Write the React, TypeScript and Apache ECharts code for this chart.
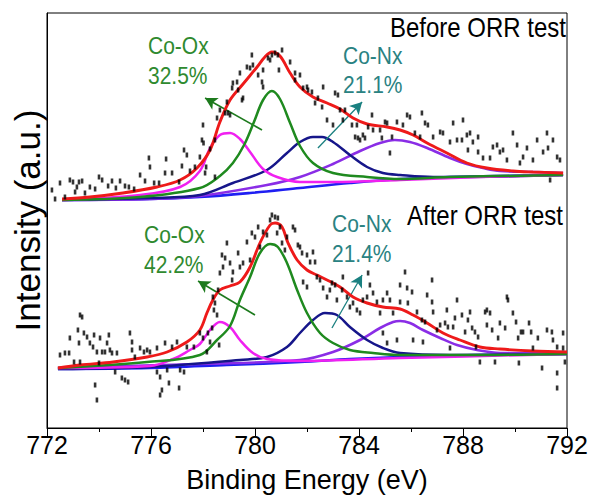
import React, { useEffect, useRef } from "react";
import * as echarts from "echarts";

// ---------- axis ----------
const xTicks = [772, 776, 780, 784, 788, 792];
const xRange = [772, 792];
const yRange = [0, 415];

// ---------- Before ORR test (upper spectrum) ----------
const beforeBaseline = [
  [772.58, 228], [775.96, 229], [777.88, 231], [779.81, 235], [781.73, 240],
  [783.65, 245], [785.58, 249], [787.5, 251], [791.85, 253],
];
const beforePeak779 = [
  [772.58, 228], [775.58, 233], [777.12, 241], [777.88, 257], [778.27, 280],
  [778.65, 293], [779.04, 295], [779.42, 289], [779.81, 276], [780.31, 259],
  [780.85, 251], [781.73, 246], [783.0, 246], [785.58, 248], [788.65, 251], [791.85, 253],
];
const beforeCoOx = [
  [772.58, 228], [775.58, 231], [777.88, 240], [778.65, 252], [779.15, 265],
  [779.58, 283], [779.96, 306], [780.31, 328], [780.65, 337], [780.96, 329],
  [781.35, 305], [781.73, 282], [782.23, 265], [783.0, 255], [784.31, 251],
  [785.58, 249], [787.5, 251], [791.85, 253],
];
const beforeCoNx = [
  [772.58, 228], [775.96, 230], [777.88, 233], [779.15, 245], [780.46, 258],
  [781.23, 275], [781.73, 286], [782.23, 291], [782.58, 291], [783.0, 286],
  [783.65, 273], [784.31, 261], [784.92, 255], [785.58, 253], [786.85, 251], [791.85, 253],
];
const beforeSatellite = [
  [772.58, 228], [775.96, 229], [777.88, 232], [780.46, 243], [781.73, 251],
  [783.0, 264], [784.04, 277], [784.81, 285], [785.38, 288], [785.96, 286],
  [786.62, 280], [787.5, 270], [788.15, 264], [788.77, 260], [789.42, 257],
  [790.69, 256], [791.85, 255],
];
const beforeEnvelope = [
  [772.58, 229], [773.65, 231], [774.92, 235], [776.23, 241], [777.12, 248],
  [777.77, 260], [778.27, 278], [778.65, 306], [779.04, 328], [779.54, 344],
  [780.08, 361], [780.38, 371], [780.65, 376], [780.96, 372], [781.35, 355],
  [781.73, 341], [782.23, 331], [782.77, 325], [783.27, 319], [783.77, 310],
  [784.31, 304], [785.08, 301], [785.58, 298], [786.08, 293], [786.62, 285],
  [787.38, 275], [788.15, 265], [788.92, 260], [789.92, 257], [790.69, 256], [791.85, 255],
];
const beforePoints = [
  [772.19, 238], [772.31, 229], [772.5, 245], [772.69, 231], [772.88, 248], [773.0, 246],
  [773.08, 236], [773.15, 241], [773.23, 246], [773.35, 247], [773.46, 235], [773.65, 241],
  [773.85, 239], [774.0, 251], [774.12, 248], [774.35, 242], [774.5, 247], [774.65, 240],
  [774.81, 247], [775.0, 242], [775.15, 241], [775.35, 239], [775.58, 253], [775.77, 247],
  [775.92, 270], [775.96, 261], [776.12, 245], [776.31, 245], [776.54, 255], [776.58, 269],
  [776.81, 255], [777.08, 246], [777.19, 262], [777.27, 278], [777.38, 273], [777.5, 257],
  [777.69, 261], [777.88, 271], [777.96, 288], [778.0, 303], [778.02, 285], [778.08, 255],
  [778.12, 261], [778.27, 279], [778.46, 288], [778.46, 251], [778.54, 310], [778.65, 318],
  [778.85, 315], [778.92, 326], [778.96, 315], [779.04, 313], [779.12, 340], [779.15, 345],
  [779.31, 346], [779.35, 338], [779.42, 355], [779.5, 328], [779.54, 330], [779.69, 361],
  [779.81, 360], [779.88, 373], [779.92, 363], [780.12, 353], [780.27, 346], [780.31, 358],
  [780.31, 341], [780.5, 370], [780.58, 368], [780.65, 373], [780.77, 375], [780.88, 373],
  [780.92, 358], [781.04, 378], [781.35, 366], [781.54, 355], [781.54, 348], [781.73, 353],
  [781.85, 340], [782.0, 341], [782.04, 338], [782.19, 336], [782.31, 325], [782.42, 330],
  [782.58, 321], [782.62, 341], [782.77, 308], [783.0, 303], [783.08, 335], [783.19, 333],
  [783.27, 318], [783.38, 308], [783.46, 318], [783.73, 303], [783.85, 291], [783.92, 303],
  [783.96, 290], [784.04, 288], [784.15, 293], [784.23, 290], [784.35, 301], [784.5, 313],
  [784.54, 298], [784.81, 298], [784.88, 290], [785.0, 306], [785.08, 305], [785.19, 275],
  [785.27, 291], [785.46, 306], [785.69, 303], [785.85, 313], [785.96, 311], [786.15, 295],
  [786.35, 291], [786.42, 315], [786.54, 305], [786.65, 303], [786.85, 291], [787.12, 296],
  [787.23, 295], [787.5, 286], [787.62, 305], [787.77, 288], [787.96, 288], [788.0, 308],
  [788.15, 293], [788.19, 278], [788.27, 295], [788.38, 286], [788.58, 291], [788.58, 276],
  [788.77, 270], [789.04, 270], [789.15, 281], [789.31, 283], [789.42, 276], [789.54, 278],
  [789.69, 268], [789.92, 295], [790.08, 283], [790.19, 265], [790.31, 271], [790.46, 280],
  [790.69, 268], [790.85, 288], [791.08, 276], [791.23, 295], [791.27, 280], [791.35, 248],
  [791.46, 288], [791.62, 271], [791.73, 268],
];

// ---------- After ORR test (lower spectrum) ----------
const afterBaseline = [
  [772.42, 59], [775.96, 60], [778.92, 63], [781.73, 66], [783.65, 69],
  [785.58, 71], [788.65, 73], [792.0, 74],
];
const afterPeak779 = [
  [772.42, 60], [775.96, 62], [776.85, 69], [777.5, 78], [777.88, 84], [778.27, 98],
  [778.65, 106], [779.04, 101], [779.42, 88], [779.92, 75], [780.46, 69], [781.73, 67],
  [785.58, 70], [792.0, 74],
];
const afterCoOx = [
  [772.42, 60], [775.85, 66], [777.88, 73], [778.54, 88], [779.04, 102], [779.42, 128],
  [779.81, 151], [780.19, 175], [780.58, 184], [780.88, 181], [781.23, 165], [781.62, 138],
  [782.0, 115], [782.5, 95], [783.0, 85], [783.65, 78], [784.54, 75], [785.58, 73],
  [788.65, 73], [792.0, 74],
];
const afterCoNx = [
  [772.42, 59], [775.96, 61], [779.42, 68], [780.46, 71], [781.23, 81], [781.73, 95],
  [782.23, 108], [782.69, 115], [783.15, 113], [783.65, 101], [784.31, 88], [784.92, 80],
  [785.58, 75], [787.5, 73], [792.0, 74],
];
const afterSatellite = [
  [772.42, 60], [777.88, 64], [781.73, 68], [783.0, 76], [784.04, 88], [784.81, 100],
  [785.31, 106], [785.58, 107], [785.96, 105], [786.46, 98], [787.12, 90], [787.77, 83],
  [788.54, 78], [789.42, 75], [792.0, 75],
];
const afterEnvelope = [
  [772.42, 60], [773.27, 63], [774.54, 66], [775.85, 71], [776.62, 76], [777.38, 86],
  [777.88, 98], [778.15, 115], [778.38, 128], [778.65, 138], [779.04, 142], [779.42, 146],
  [779.81, 161], [780.19, 185], [780.58, 203], [780.77, 205], [781.04, 201], [781.27, 185],
  [781.62, 168], [782.0, 158], [782.38, 153], [782.77, 148], [783.27, 141], [783.77, 131],
  [784.31, 125], [784.92, 121], [785.58, 119], [786.08, 113], [786.62, 105], [787.23, 95],
  [787.88, 88], [788.65, 81], [789.42, 79], [790.69, 77], [792.0, 76],
];
const afterPoints = [
  [772.5, 73], [772.69, 75], [772.85, 75], [772.88, 90], [773.04, 66], [773.19, 98],
  [773.23, 85], [773.27, 113], [773.27, 66], [773.35, 111], [773.42, 95], [773.54, 91],
  [773.65, 85], [773.77, 81], [773.81, 93], [773.85, 43], [773.92, 76], [773.92, 28],
  [774.0, 65], [774.04, 90], [774.12, 76], [774.23, 76], [774.31, 85], [774.38, 93],
  [774.42, 78], [774.5, 75], [774.62, 56], [774.69, 75], [774.88, 50], [775.0, 48],
  [775.12, 46], [775.19, 95], [775.27, 86], [775.27, 78], [775.38, 71], [775.58, 80],
  [775.73, 76], [775.85, 78], [775.96, 76], [776.23, 80], [776.23, 56], [776.35, 51],
  [776.35, 33], [776.42, 38], [776.54, 85], [776.62, 58], [776.69, 45], [776.81, 81],
  [777.0, 86], [777.08, 40], [777.12, 58], [777.27, 56], [777.38, 81], [777.65, 81],
  [777.88, 95], [778.0, 90], [778.15, 76], [778.19, 95], [778.27, 86], [778.35, 100],
  [778.38, 131], [778.42, 118], [778.46, 125], [778.54, 113], [778.58, 138], [778.62, 83],
  [778.65, 155], [778.73, 173], [778.77, 161], [778.85, 170], [778.92, 185], [779.04, 165],
  [779.12, 148], [779.15, 156], [779.35, 175], [779.42, 161], [779.54, 165], [779.69, 186],
  [779.81, 168], [779.88, 195], [780.0, 191], [780.12, 201], [780.19, 181], [780.31, 196],
  [780.46, 193], [780.58, 208], [780.65, 213], [780.77, 211], [780.85, 195], [780.88, 210],
  [780.96, 201], [781.04, 185], [781.15, 178], [781.23, 191], [781.46, 201], [781.54, 198],
  [781.65, 183], [781.73, 181], [781.81, 175], [781.85, 146], [782.0, 173], [782.0, 141],
  [782.12, 166], [782.23, 176], [782.31, 166], [782.38, 151], [782.5, 148], [782.62, 140],
  [782.77, 131], [782.88, 138], [782.96, 145], [783.08, 143], [783.15, 128], [783.35, 138],
  [783.38, 151], [783.54, 131], [783.65, 121], [783.77, 125], [783.92, 118], [784.04, 115],
  [784.15, 128], [784.31, 131], [784.35, 155], [784.42, 143], [784.54, 135], [784.69, 126],
  [784.81, 115], [784.92, 128], [784.92, 95], [785.08, 135], [785.08, 85], [785.19, 128],
  [785.31, 115], [785.46, 88], [785.58, 143], [785.58, 126], [785.77, 156], [785.85, 140],
  [785.88, 125], [786.04, 136], [786.08, 88], [786.23, 116], [786.42, 108], [786.46, 86],
  [786.54, 106], [786.62, 133], [786.81, 148], [786.81, 126], [786.85, 116], [787.0, 98],
  [787.12, 103], [787.31, 105], [787.38, 118], [787.42, 101], [787.5, 80], [787.62, 101],
  [787.69, 110], [787.77, 128], [787.96, 113], [788.08, 96], [788.19, 108], [788.27, 116],
  [788.35, 100], [788.46, 96], [788.5, 81], [788.58, 91], [788.65, 66], [788.85, 116],
  [788.92, 118], [788.92, 103], [789.04, 115], [789.12, 98], [789.23, 66], [789.35, 90],
  [789.42, 105], [789.62, 100], [789.69, 131], [789.73, 128], [789.92, 115], [790.04, 106],
  [790.12, 90], [790.15, 65], [790.23, 96], [790.31, 96], [790.54, 105], [790.62, 96],
  [790.69, 80], [790.88, 90], [791.04, 60], [791.23, 98], [791.42, 96], [791.46, 88],
  [791.62, 81], [791.62, 55], [791.62, 40], [791.85, 95], [791.85, 80], [791.92, 66],
];

// ---------- annotation arrows (data coordinates: from -> to) ----------
const arrowsCoOx = [
  [[780.27, 298], [778.08, 330]],
  [[780.0, 113], [777.81, 147]],
];
const arrowsCoNx = [
  [[782.42, 280], [784.12, 326]],
  [[782.96, 100], [784.12, 153]],
];

const FONT = '"Liberation Sans", Arial, Helvetica, sans-serif';
const C = {
  red: "#ee1a1a",
  green: "#1f8a1f",
  magenta: "#f020f0",
  navy: "#16168a",
  purple: "#8a2de6",
  blue: "#1f1ff2",
  textGreen: "#2f8a2f",
  teal: "#2a8282",
  arrowGreen: "#1d7a1d",
  arrowTeal: "#1a8080",
};

function lineSeries(name: string, data: number[][], color: string, width: number, z: number) {
  return {
    name,
    type: "line",
    data,
    smooth: 0.35,
    showSymbol: false,
    symbol: "none",
    lineStyle: { color, width },
    z,
    silent: true,
  };
}

function label(text: string, x: number, y: number, color: string, size: number, align: string) {
  return {
    type: "text", x, y, scaleY: 1.15,
    style: { text, fill: color, font: `${size}px ${FONT}`, textAlign: align, textVerticalAlign: "middle" },
  };
}

export default function App() {
  const ref = useRef<HTMLDivElement>(null);
  useEffect(() => {
    if (!ref.current) return;
    const chart = echarts.init(ref.current, null, { renderer: "svg" });
    const arrowLines = [
      ...arrowsCoOx.map((a) => [
        { coord: a[0], lineStyle: { color: C.arrowGreen, width: 1.6, type: "solid" } },
        { coord: a[1] },
      ]),
      ...arrowsCoNx.map((a) => [
        { coord: a[0], lineStyle: { color: C.arrowTeal, width: 1.3, type: "solid" } },
        { coord: a[1] },
      ]),
    ];
    const option: any = {
      animation: false,
      grid: {
        left: 47, right: 26, top: 13, bottom: 74,
        show: true, borderColor: "#000", borderWidth: 1, containLabel: false,
      },
      xAxis: {
        type: "value",
        min: xRange[0], max: xRange[1], interval: 4,
        axisLine: { show: true, onZero: false, lineStyle: { color: "#000", width: 1 } },
        axisTick: { show: true, inside: false, length: 8, lineStyle: { color: "#000", width: 1 } },
        minorTick: { show: true, splitNumber: 2, length: 4, lineStyle: { color: "#000", width: 1 } },
        splitLine: { show: false },
        axisLabel: {
          color: "#000", fontSize: 25, fontFamily: FONT, margin: 4,
          showMinLabel: true, showMaxLabel: true,
          formatter: (v: number) => (xTicks.includes(v) ? String(v) : ""),
        },
        name: "Binding Energy (eV)",
        nameLocation: "middle",
        nameGap: 38,
        nameTextStyle: { color: "#000", fontSize: 27, fontFamily: FONT },
      },
      yAxis: {
        type: "value",
        min: yRange[0], max: yRange[1],
        axisLine: { show: true, onZero: false, lineStyle: { color: "#000", width: 1 } },
        axisTick: { show: false },
        axisLabel: { show: false },
        splitLine: { show: false },
        name: "Intensity (a.u.)",
        nameLocation: "middle",
        nameGap: 2,
        nameTextStyle: { color: "#000", fontSize: 35, fontFamily: FONT },
      },
      series: [
        {
          ...lineSeries("Before baseline", beforeBaseline, C.blue, 2.6, 2),
          markLine: {
            silent: true,
            symbol: ["none", "arrow"],
            symbolSize: [10, 12],
            label: { show: false },
            emphasis: { disabled: true },
            data: arrowLines,
          },
        },
        lineSeries("Before satellite", beforeSatellite, C.purple, 2.6, 3),
        lineSeries("Before Co-Nx", beforeCoNx, C.navy, 2.5, 4),
        lineSeries("Before 779 eV", beforePeak779, C.magenta, 2.5, 4),
        lineSeries("Before Co-Ox", beforeCoOx, C.green, 2.5, 5),
        lineSeries("Before envelope", beforeEnvelope, C.red, 2.9, 6),
        lineSeries("After baseline", afterBaseline, C.blue, 2.6, 2),
        lineSeries("After satellite", afterSatellite, C.purple, 2.6, 3),
        lineSeries("After Co-Nx", afterCoNx, C.navy, 2.5, 4),
        lineSeries("After 779 eV", afterPeak779, C.magenta, 2.5, 4),
        lineSeries("After Co-Ox", afterCoOx, C.green, 2.5, 5),
        lineSeries("After envelope", afterEnvelope, C.red, 2.9, 6),
        {
          name: "Before data", type: "scatter", data: beforePoints,
          symbol: "rect", symbolSize: [2.6, 5],
          itemStyle: { color: "#000" }, z: 7, silent: true,
        },
        {
          name: "After data", type: "scatter", data: afterPoints,
          symbol: "rect", symbolSize: [2.6, 5],
          itemStyle: { color: "#000" }, z: 7, silent: true,
        },
      ],
      graphic: [
        label("Before ORR test", 566, 27, "#000", 24, "right"),
        label("After ORR test", 563, 215, "#000", 24, "right"),
        label("Co-Ox", 148, 46, C.textGreen, 21, "left"),
        label("32.5%", 148, 76, C.textGreen, 21, "left"),
        label("Co-Nx", 343, 56, C.teal, 21, "left"),
        label("21.1%", 343, 85, C.teal, 21, "left"),
        label("Co-Ox", 144, 235, C.textGreen, 21, "left"),
        label("42.2%", 144, 265, C.textGreen, 21, "left"),
        label("Co-Nx", 332, 224, C.teal, 21, "left"),
        label("21.4%", 332, 254, C.teal, 21, "left"),
      ],
    };
    chart.setOption(option);
    return () => chart.dispose();
  }, []);
  return <div ref={ref} style={{ width: 593, height: 502, position: "absolute", left: 0, top: 0 }} />;
}
